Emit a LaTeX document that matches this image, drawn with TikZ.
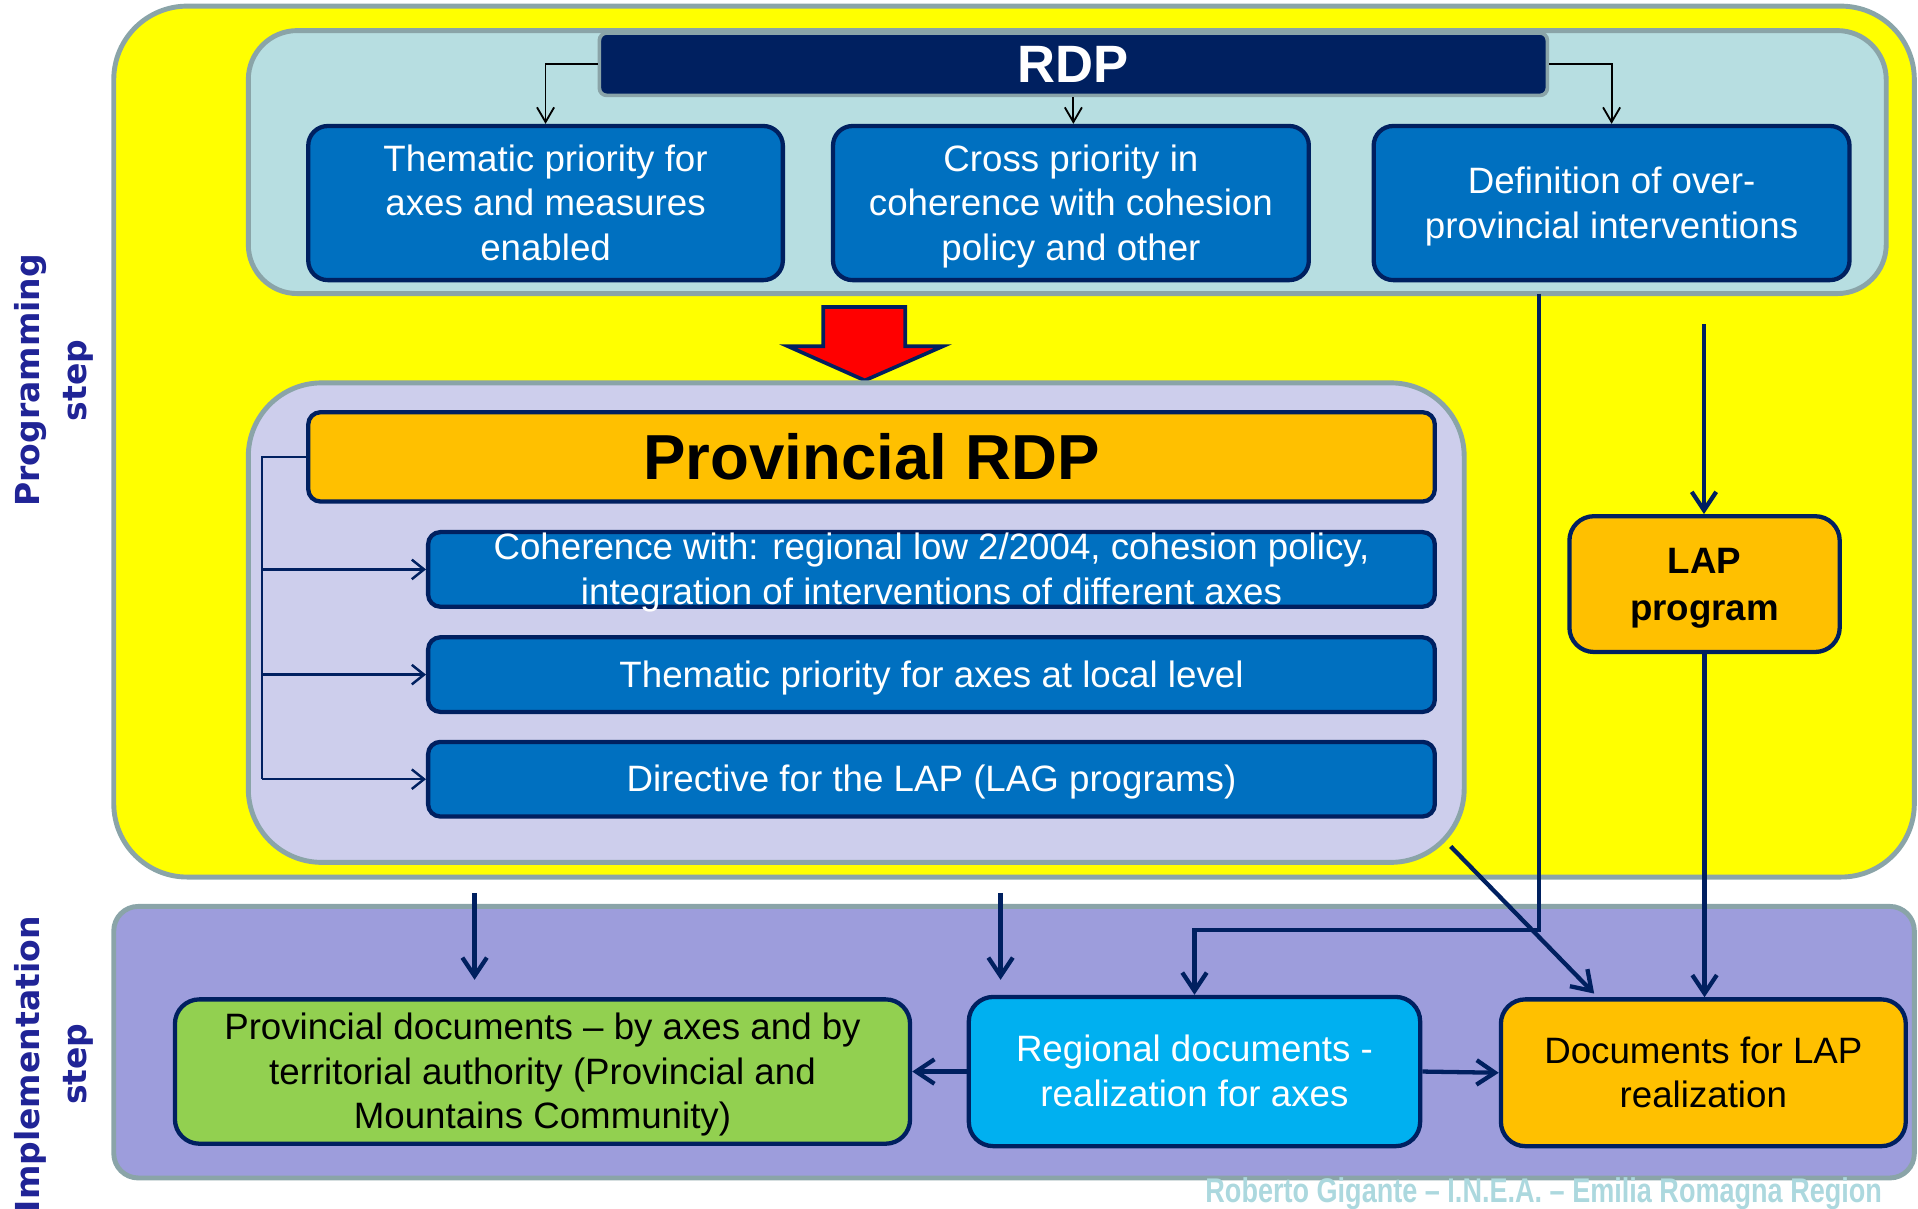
\documentclass[tikz,border=0pt]{standalone}
\usepackage{fontspec}
\setmainfont{Liberation Sans}
\newfontfamily\labfont{DejaVu Sans}
\usetikzlibrary{arrows.meta,calc}
\definecolor{navy}{RGB}{0,32,96}
\definecolor{greyb}{RGB}{138,164,168}
\definecolor{yel}{RGB}{255,255,0}
\definecolor{tealf}{RGB}{183,222,225}
\definecolor{bluef}{RGB}{0,112,192}
\definecolor{lavf}{RGB}{205,206,236}
\definecolor{orf}{RGB}{255,192,0}
\definecolor{implf}{RGB}{157,157,220}
\definecolor{greenf}{RGB}{146,208,80}
\definecolor{cyanf}{RGB}{0,176,240}
\definecolor{labblue}{RGB}{32,36,150}
\definecolor{footc}{RGB}{172,216,222}
\newcommand\bs{\rule[-6.4pt]{0pt}{33.6pt}}
\tikzset{
  panel/.style={draw=greyb, line width=4pt, rounded corners=#1},
  bluebox/.style={draw=navy, fill=bluef, line width=3.5pt, rounded corners=16pt, text=white, align=center, inner sep=0pt,
     font=\fontsize{30}{36.5}\selectfont},
  subbox/.style={draw=navy, fill=bluef, line width=3.5pt, rounded corners=10pt, inner sep=0pt},
  subtext/.style={text=white, align=center, inner sep=0pt, font=\fontsize{30}{36.5}\selectfont},
  docbox/.style={draw=navy, line width=3.5pt, rounded corners=20pt, align=center, inner sep=0pt,
     font=\fontsize{30}{36.5}\selectfont},
  thinarrow/.style={draw=black, line width=1.5pt, -{Straight Barb[length=12pt,width=14pt]}},
  medline/.style={draw=navy, line width=2pt},
  medarrow/.style={draw=navy, line width=2pt, -{Straight Barb[length=10pt,width=16pt]}},
  bigarrow/.style={draw=navy, line width=3.5pt, -{Straight Barb[length=15pt,width=20pt]}},
  steplabel/.style={rotate=90, align=center, text=labblue, font=\labfont\bfseries\fontsize{27}{38}\selectfont},
}
\begin{document}
\begin{tikzpicture}[x=1pt,y=-1pt]
\useasboundingbox (0,0) rectangle (1568,988);
% programming panel
\node[panel=60pt, fill=yel, minimum width=1472pt, minimum height=712pt] (prog) at (829,361) {};
\node[panel=40pt, fill=tealf, minimum width=1339pt, minimum height=215pt] (rdpgroup) at (872.5,132.5) {};
\node[draw=greyb, fill=navy, line width=3pt, rounded corners=6pt, minimum width=775pt, minimum height=51pt, inner sep=0pt,
  text=white, font=\fontsize{43}{45}\selectfont\bfseries] (rdp) at (877.5,52.5) {RDP};
\node[bluebox, minimum width=388pt, minimum height=126pt] (t1) at (446,166) {\bs Thematic priority for\\axes and measures\\\bs enabled};
\node[bluebox, minimum width=389pt, minimum height=126pt] (t2) at (875.5,166) {\bs Cross priority in\\coherence with cohesion\\\bs policy and other};
\node[bluebox, minimum width=389pt, minimum height=126pt] (t3) at (1317.5,166) {\bs Definition of over-\\\bs provincial interventions};
\draw[thinarrow] (rdp.west) -| (t1.north);
\draw[thinarrow] (rdp.south) -- (rdp.south |- t2.north);
\draw[thinarrow] (rdp.east) -| (t3.north);
% red arrow
\draw[fill=red, draw=navy, line width=3pt, line join=miter] (673,251) -- (740,251) -- (740,283) -- (771,283) -- (707,311) -- (644,283) -- (673,283) -- cycle;
% provincial RDP group
\node[panel=60pt, fill=lavf, minimum width=994pt, minimum height=392pt] (lav) at (700,509) {};
\node[draw=navy, fill=orf, line width=3.5pt, rounded corners=10pt, minimum width=921pt, minimum height=73pt, inner sep=0pt,
  font=\fontsize{52}{54}\selectfont\bfseries] (prdp) at (712.5,373.5) {Provincial RDP};
\node[subbox, minimum width=823pt, minimum height=61pt] (s1) at (761.5,465.5) {};
\node[subtext] (s1t) at (s1.center) {\bs Coherence with: regional low 2/2004, cohesion policy,\\\bs integration of interventions of different axes};
\node[subbox, minimum width=823pt, minimum height=61pt] (s2) at (761.5,551.5) {};
\node[subtext] (s2t) at (s2.center) {\bs Thematic priority for axes at local level};
\node[subbox, minimum width=823pt, minimum height=61pt] (s3) at (761.5,637) {};
\node[subtext] (s3t) at (s3.center) {\bs Directive for the LAP (LAG programs)};
\coordinate (bx) at (214,373.5);
\draw[medline] (prdp.west) -- (bx) -- (bx |- s3.west);
\draw[medarrow] (bx |- s1.west) -- (s1.west);
\draw[medarrow] (bx |- s2.west) -- (s2.west);
\draw[medarrow] (bx |- s3.west) -- (s3.west);
% LAP program
\node[docbox, fill=orf, minimum width=221pt, minimum height=111pt, font=\fontsize{30}{38}\selectfont\bfseries] (lap) at (1393.5,477.5) {\bs LAP\\\bs program};
% implementation panel
\node[panel=20pt, fill=implf, minimum width=1472pt, minimum height=222pt] (impl) at (829,852) {};
\node[docbox, fill=greenf, minimum width=601pt, minimum height=118pt] (pd) at (443.5,876) {\bs Provincial documents -- by axes and by\\territorial authority (Provincial and\\\bs Mountains Community)};
\node[docbox, fill=cyanf, text=white, minimum width=369pt, minimum height=122pt] (rd) at (976.5,876) {\bs Regional documents -\\\bs realization for axes};
\node[docbox, fill=orf, minimum width=331pt, minimum height=120pt] (dl) at (1392.5,877) {\bs Documents for LAP\\\bs realization};
% connectors
\coordinate (c1) at (1258,240);
\coordinate (c2) at (1258,760);
\draw[bigarrow] (c1) -- (c2) -| (rd.north);
\coordinate (c3) at (1393,265);
\draw[bigarrow] (c3) -- (c3 |- lap.north);
\draw[bigarrow] (lap.south) -- (lap.south |- dl.north);
\coordinate (c4) at (1186,692);
\draw[bigarrow] (c4) -- ($(dl.north west)+(78,-3)$);
\coordinate (f1) at (388,730);
\coordinate (f1e) at (388,801);
\draw[bigarrow] (f1) -- (f1e);
\coordinate (f2) at (818,730);
\coordinate (f2e) at (818,801);
\draw[bigarrow] (f2) -- (f2e);
\draw[bigarrow] (rd.west) -- (pd.east);
\draw[bigarrow] (rd.east) -- (dl.west);
% side labels
\node[steplabel] (plab) at (44,311) {Programming\\step};
\node[steplabel] (ilab) at (44,870) {Implementation\\step};
% footer
\node[text=footc, xscale=0.79, inner sep=0pt, font=\fontsize{28}{30}\selectfont\bfseries] (foot) at (1262,976) {Roberto Gigante -- I.N.E.A. -- Emilia Romagna Region};
\end{tikzpicture}
\end{document}
